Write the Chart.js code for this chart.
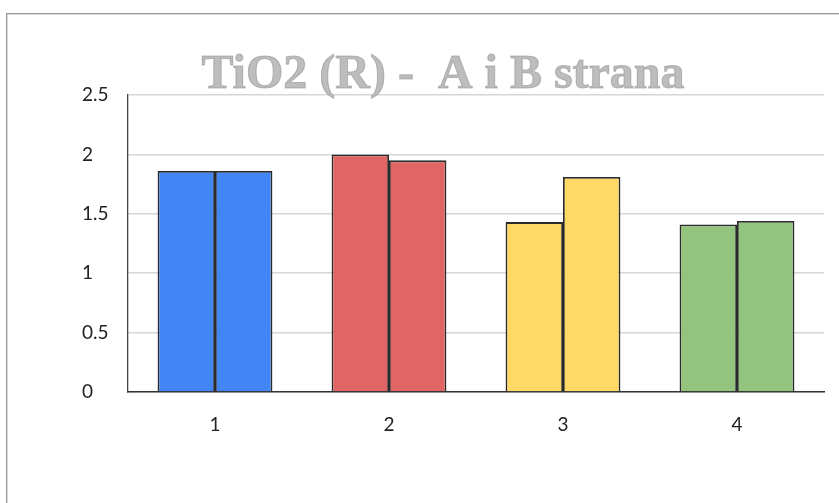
<!DOCTYPE html>
<html>
<head>
<meta charset="utf-8">
<script src="https://cdn.jsdelivr.net/npm/chart.js@4/dist/chart.umd.min.js"></script>
<style>
    html, body { margin: 0; padding: 0; background: #fff; overflow: hidden; }
    #frame {
        position: absolute; left: 6px; top: 13px; width: 900px; height: 600px;
        border-left: 1px solid #9a9a9a; border-top: 1px solid #9a9a9a;
        box-shadow: inset 1px 1px 0 #d8d8d8;
    }
    #wrap { position: absolute; left: 0; top: 0; width: 839px; height: 503px; }
</style>
</head>
<body>
<div id="frame"></div>
<div id="wrap"><canvas id="tioChart"></canvas></div>
<script>
// categories and the two sides (A, B)
const categories = ['1', '2', '3', '4'];
const sideA = [1.86, 2.0, 1.43, 1.41];
const sideB = [1.86, 1.95, 1.81, 1.44];
const yTicks = [0, 0.5, 1, 1.5, 2, 2.5];
const barColors = ['#4285f4', '#e06666', '#ffd966', '#93c47d'];
const chartTitle = 'TiO2 (R) -  A i B strana';

// gray serif title drawn over the top of the plot, like the sheet export
const titlePlugin = {
    id: 'sheetTitle',
    afterDraw(chart) {
        const ctx = chart.ctx;
        ctx.save();
        ctx.font = 'bold 48px "Liberation Serif", "Times New Roman", serif';
        ctx.textAlign = 'center';
        ctx.textBaseline = 'alphabetic';
        ctx.fillStyle = '#bdbdbd';
        ctx.strokeStyle = 'rgba(140,140,140,0.55)';
        ctx.lineWidth = 1;
        ctx.fillText(chartTitle, 443, 88);
        ctx.strokeText(chartTitle, 443, 88);
        ctx.restore();
    }
};

document.addEventListener('DOMContentLoaded', () => {
    const ctx = document.getElementById('tioChart').getContext('2d');
    const tickFont = { family: 'Lato, "Open Sans", sans-serif', size: 19 };

    new Chart(ctx, {
        type: 'bar',
        data: {
            labels: categories,
            datasets: [{
                label: 'A',
                data: sideA,
                backgroundColor: barColors,
                borderColor: '#2b2b2b',
                borderWidth: 1.8
            }, {
                label: 'B',
                data: sideB,
                backgroundColor: barColors,
                borderColor: '#2b2b2b',
                borderWidth: 1.8
            }]
        },
        options: {
            responsive: true,
            maintainAspectRatio: false,
            animation: false,
            layout: {
                padding: { left: 82, right: 15, top: 95, bottom: 50 }
            },
            categoryPercentage: 0.66,
            barPercentage: 1,
            plugins: {
                legend: { display: false },
                title: { display: false },
                tooltip: { enabled: false }
            },
            scales: {
                y: {
                    min: 0,
                    max: 2.5,
                    afterFit: (scale) => { scale.width = 46; },
                    afterBuildTicks: (scale) => { scale.ticks = yTicks.map(v => ({ value: v })); },
                    border: { display: true, color: '#444', width: 1.3 },
                    grid: {
                        color: '#d6d6d6',
                        lineWidth: 1.5,
                        drawTicks: false
                    },
                    ticks: {
                        font: tickFont,
                        color: '#222',
                        crossAlign: 'far',
                        padding: 8,
                        callback: (v) => String(v)
                    }
                },
                x: {
                    afterFit: (scale) => { scale.height = 61; },
                    border: { display: true, color: '#333', width: 1.5 },
                    grid: { display: false, drawTicks: false },
                    ticks: {
                        font: tickFont,
                        color: '#222',
                        padding: 21
                    }
                }
            }
        },
        plugins: [titlePlugin]
    });
});
</script>
</body>
</html>
